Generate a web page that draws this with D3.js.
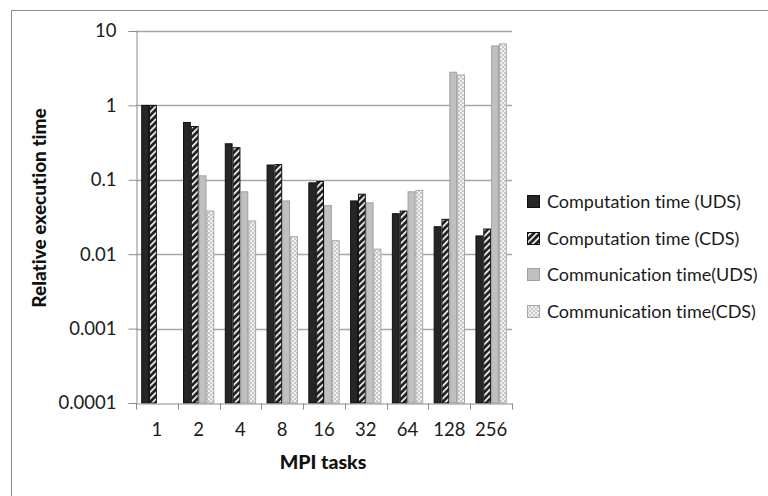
<!DOCTYPE html>
<html>
<head>
<meta charset="utf-8">
<script src="https://cdn.jsdelivr.net/npm/d3@7"></script>
<style>
  html, body { margin: 0; padding: 0; background: #fff; }
  svg { display: block; font-family: Lato, "Open Sans", sans-serif; }
  text { font-variant-ligatures: none; }
</style>
</head>
<body>
<svg id="chart" width="768" height="496"></svg>
<script>
// MPI task counts on the x axis
const categories = ["1", "2", "4", "8", "16", "32", "64", "128", "256"];

// Relative execution time for each configuration (null = no communication)
const compUDS = [1, 0.59, 0.305, 0.158, 0.091, 0.052, 0.035, 0.0234, 0.0176];
const compCDS = [1, 0.52, 0.27, 0.16, 0.095, 0.064, 0.038, 0.0294, 0.0218];
const commUDS = [null, 0.113, 0.069, 0.052, 0.045, 0.049, 0.069, 2.79, 6.3];
const commCDS = [null, 0.038, 0.028, 0.0172, 0.0152, 0.0117, 0.072, 2.56, 6.7];

const seriesNames = [
  "Computation time (UDS)",
  "Computation time (CDS)",
  "Communication time(UDS)",
  "Communication time(CDS)"
];
const seriesValues = [compUDS, compCDS, commUDS, commCDS];

const yTicks = [10, 1, 0.1, 0.01, 0.001, 0.0001];
const yTickLabels = ["10", "1", "0.1", "0.01", "0.001", "0.0001"];

const svg = d3.select("#chart");

// Fill patterns for the CDS series
const defs = svg.append("defs");
const hatch = defs.append("pattern")
  .attr("id", "hatch").attr("patternUnits", "userSpaceOnUse")
  .attr("width", 4.5).attr("height", 4.5)
  .attr("patternTransform", "rotate(45)");
hatch.append("rect").attr("width", 4.5).attr("height", 4.5).attr("fill", "#1e1e1e");
hatch.append("rect").attr("x", 0).attr("width", 1.9).attr("height", 4.5).attr("fill", "#e6e6e6");

const checker = defs.append("pattern")
  .attr("id", "checker").attr("patternUnits", "userSpaceOnUse")
  .attr("width", 4).attr("height", 4);
checker.append("rect").attr("width", 4).attr("height", 4).attr("fill", "#f2f2f2");
checker.append("rect").attr("width", 2).attr("height", 2).attr("fill", "#c8c8c8");
checker.append("rect").attr("x", 2).attr("y", 2).attr("width", 2).attr("height", 2).attr("fill", "#c8c8c8");

const styles = [
  { fill: "#262626", stroke: "#111111" },
  { fill: "url(#hatch)", stroke: "#111111" },
  { fill: "#c0c0c0", stroke: "#a0a0a0" },
  { fill: "url(#checker)", stroke: "#a8a8a8" }
];

// Outer chart frame
svg.append("rect")
  .attr("x", 11.5).attr("y", 10.5).attr("width", 800).attr("height", 520)
  .attr("fill", "none").attr("stroke", "#8c8c8c").attr("stroke-width", 1);

const plot = { left: 136, right: 512, top: 31, bottom: 403 };

const x = d3.scaleBand().domain(categories).range([plot.left, plot.right]).padding(0);
const inner = d3.scaleBand().domain(d3.range(4))
  .range([x.bandwidth() * 0.125, x.bandwidth() * 0.875]).padding(0);
const y = d3.scaleLog().domain([0.0001, 10]).range([plot.bottom, plot.top]);

// Horizontal gridlines
svg.append("g").selectAll("line").data(yTicks.slice(0, -1)).join("line")
  .attr("x1", plot.left).attr("x2", plot.right)
  .attr("y1", d => Math.round(y(d)) + 0.5).attr("y2", d => Math.round(y(d)) + 0.5)
  .attr("stroke", "#a6a6a6").attr("stroke-width", 1.3);

// Bars
seriesValues.forEach((vals, s) => {
  svg.append("g").selectAll("rect")
    .data(vals.map((v, i) => ({ v, c: categories[i] })).filter(d => d.v != null))
    .join("rect")
    .attr("x", d => x(d.c) + inner(s) + 0.5)
    .attr("y", d => y(d.v))
    .attr("width", inner.bandwidth() - 1)
    .attr("height", d => plot.bottom - y(d.v))
    .attr("fill", styles[s].fill)
    .attr("stroke", styles[s].stroke)
    .attr("stroke-width", 1);
});

// Y axis
const yAxis = d3.axisLeft(y).tickValues(yTicks)
  .tickFormat((d, i) => yTickLabels[i]).tickSize(8).tickPadding(12);
const gy = svg.append("g").attr("transform", `translate(${plot.left + 0.5},0)`).call(yAxis);
gy.select(".domain").attr("stroke", "#8c8c8c");
gy.selectAll(".tick line").attr("stroke", "#8c8c8c");
gy.selectAll(".tick text").attr("fill", "#1a1a1a").attr("font-size", 18.5)
  .attr("font-family", "Lato, sans-serif");

// X axis
const xAxis = d3.axisBottom(x).tickSize(0).tickPadding(19);
const gx = svg.append("g").attr("transform", `translate(0,${plot.bottom + 0.5})`).call(xAxis);
gx.select(".domain").attr("stroke", "#8c8c8c");
gx.selectAll(".tick text").attr("fill", "#1a1a1a").attr("font-size", 18.5)
  .attr("font-family", "Lato, sans-serif");
// category separators
gx.append("g").selectAll("line").data(categories.concat(["end"])).join("line")
  .attr("x1", (d, i) => Math.round(plot.left + i * x.bandwidth()) + 0.5)
  .attr("x2", (d, i) => Math.round(plot.left + i * x.bandwidth()) + 0.5)
  .attr("y1", 0).attr("y2", 6)
  .attr("stroke", "#8c8c8c");

// Axis titles
svg.append("text")
  .attr("x", (plot.left + plot.right) / 2 - 1).attr("y", 469)
  .attr("text-anchor", "middle").attr("font-weight", "900")
  .attr("font-size", 19.5).attr("fill", "#111")
  .text("MPI tasks");

svg.append("text")
  .attr("transform", "translate(46,208) rotate(-90)")
  .attr("text-anchor", "middle").attr("font-weight", "900")
  .attr("font-size", 19).attr("fill", "#111")
  .text("Relative execution time");

// Legend
const legend = svg.append("g").attr("transform", "translate(527,0)");
const rowY = [202, 239, 275, 312];
seriesNames.forEach((name, s) => {
  legend.append("rect")
    .attr("x", 0.5).attr("y", rowY[s] - 6.5).attr("width", 12).attr("height", 12)
    .attr("fill", styles[s].fill).attr("stroke", styles[s].stroke);
  legend.append("text")
    .attr("x", 20).attr("y", rowY[s]).attr("dy", "0.35em")
    .attr("font-size", 18).attr("fill", "#1a1a1a")
    .text(name);
});
</script>
</body>
</html>
